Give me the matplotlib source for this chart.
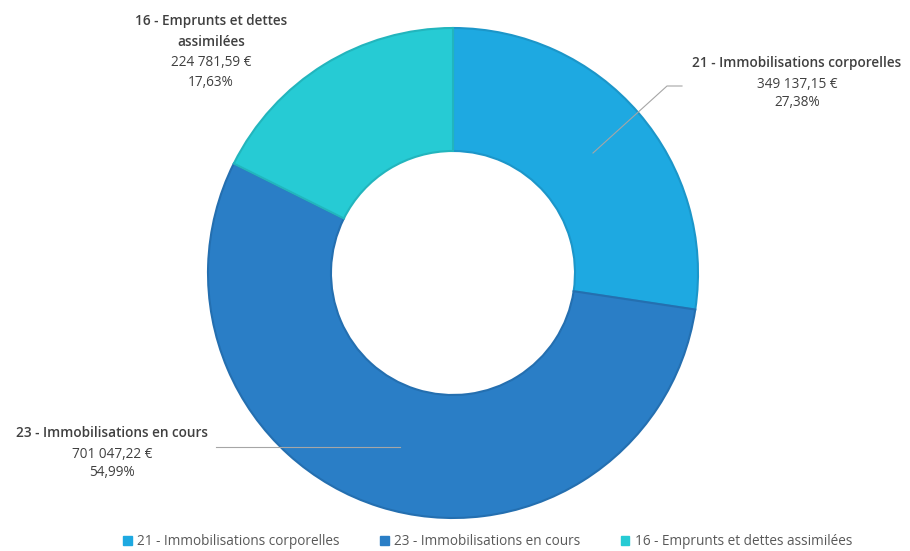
import matplotlib
matplotlib.use("Agg")
import matplotlib.pyplot as plt
from matplotlib.patches import Patch

categories = ["21 - Immobilisations corporelles", "23 - Immobilisations en cours", "16 - Emprunts et dettes assimilées"]
values = [349137.15, 701047.22, 224781.59]
value_labels = ["349 137,15 €", "701 047,22 €", "224 781,59 €"]
pct_labels = ["27,38%", "54,99%", "17,63%"]
label_names = ["21 - Immobilisations corporelles", "23 - Immobilisations en cours", "16 - Emprunts et dettes\nassimilées"]
colors = ["#1EA9E1", "#2A7EC6", "#26CBD4"]
edge_colors = ["#1C96C9", "#246FB0", "#22B5BD"]

W, H = 910, 551
fig = plt.figure(figsize=(W / 100, H / 100), dpi=100)
ax = fig.add_axes([0, 0, 1, 1])

cx, cy = 453, H - 273
R = 245
wedges, _ = ax.pie(values, colors=colors, startangle=90, counterclock=False,
                   radius=R, center=(cx, cy), frame=True,
                   wedgeprops=dict(width=123, linewidth=1.5))
for w, ec in zip(wedges, edge_colors):
    w.set_edgecolor(ec)
ax.set_xlim(0, W)
ax.set_ylim(0, H)
ax.set_aspect("equal")
ax.axis("off")

font = "Open Sans"
fs = 9.8
label_pos = [(797, 63), (112, 433), (211, 21)]
for i in range(3):
    x, y = label_pos[i]
    lines = label_names[i].split("\n")
    yy = y
    for ln in lines:
        ax.text(x, H - yy, ln, ha="center", va="center", fontsize=fs,
                fontweight="semibold", color="#404040", family=font)
        yy += 21
    ax.text(x, H - yy, value_labels[i], ha="center", va="center", fontsize=fs,
            color="#404040", family=font)
    yy += 19
    ax.text(x, H - yy, pct_labels[i], ha="center", va="center", fontsize=fs,
            color="#404040", family=font)

# leader lines
ax.plot([593, 667, 682], [H - 153, H - 86, H - 86], color="#A6A6A6", lw=0.8)
ax.plot([400, 216], [H - 447, H - 447], color="#A6A6A6", lw=0.8)

handles = [Patch(facecolor=c, edgecolor=c) for c in colors]
fig.legend(handles, categories, loc="lower center", ncol=3, frameon=False,
           bbox_to_anchor=(0.536, -0.019), handlelength=0.6,
           handleheight=0.6, handletextpad=0.4, columnspacing=3.0,
           prop=dict(family=font, size=9.8), labelcolor="#595959")

fig.savefig("out.png", dpi=100, facecolor="white")
